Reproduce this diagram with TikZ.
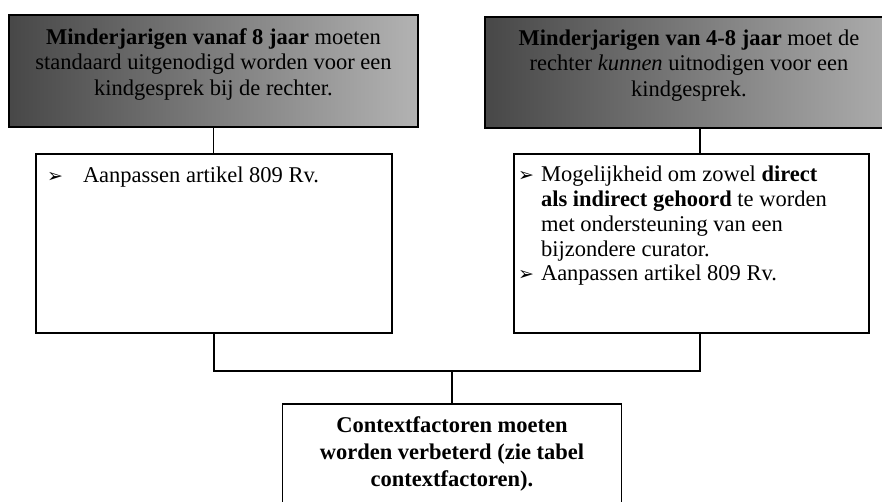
\documentclass[tikz,border=0pt]{standalone}
\usepackage{fontspec}
\setmainfont{Liberation Serif}
\newfontfamily\symfont{DejaVu Sans}
\newcommand\mybul{{\symfont\fontsize{19}{19}\selectfont ➢}}
\begin{document}
\begin{tikzpicture}[x=1pt,y=-1pt,
  box/.style={draw=black, line width=1.5pt, inner sep=0pt, outer sep=0pt, fill=white},
  grad/.style={box, left color=black!72, right color=black!30},
  txt/.style={inner sep=0pt, outer sep=0pt},
  conn/.style={draw=black, line width=1.5pt}]
\useasboundingbox (0,0) rectangle (882,502);
\clip (0,0) rectangle (882,502);
% boxes
\node[grad, minimum width=409pt, minimum height=112pt] (L1) at (213.5,71) {};
\node[grad, minimum width=430pt, minimum height=111pt] (R1) at (700,72.5) {};
\node[box, minimum width=356pt, minimum height=179pt] (L2) at (214,243.5) {};
\node[box, minimum width=355pt, minimum height=179pt] (R2) at (691.5,243.5) {};
\node[box, minimum width=339pt, minimum height=136pt] (B) at (452,472) {};
% texts
\node[txt, anchor=north] (L1t) at (213.5,26.2) {\fontsize{22.5}{25.5}\selectfont
  \begin{tabular}{@{}c@{}}
  \textbf{Minderjarigen vanaf 8 jaar} moeten\\
  standaard uitgenodigd worden voor een\\
  kindgesprek bij de rechter.
  \end{tabular}};
\node[txt, anchor=north] (R1t) at (689,27.2) {\fontsize{22.5}{25.5}\selectfont
  \begin{tabular}{@{}c@{}}
  \textbf{Minderjarigen van 4-8 jaar} moet de\\
  rechter \textit{kunnen} uitnodigen voor een\\
  kindgesprek.
  \end{tabular}};
\node[txt, anchor=north west] (L2t) at (47,165.2) {\fontsize{22.5}{25}\selectfont
  \begin{tabular}{@{}p{36pt}@{}l@{}}
  \mybul & Aanpassen artikel 809 Rv.
  \end{tabular}};
\node[txt, anchor=north west] (R2t) at (518,164.7) {\fontsize{22.5}{24.7}\selectfont
  \begin{tabular}{@{}p{23pt}@{}l@{}}
  \mybul & Mogelijkheid om zowel \textbf{direct}\\
   & \textbf{als indirect gehoord} te worden\\
   & met ondersteuning van een\\
   & bijzondere curator.\\
  \mybul & Aanpassen artikel 809 Rv.
  \end{tabular}};
\node[txt, anchor=north] (Bt) at (452,413.1) {\fontsize{22.5}{27}\selectfont\bfseries
  \begin{tabular}{@{}c@{}}
  Contextfactoren moeten\\
  worden verbeterd (zie tabel\\
  contextfactoren).
  \end{tabular}};
% connectors
\coordinate (J) at (452,371);
\draw[conn] (L1.south) -- (L1.south |- L2.north);
\draw[conn] (R1.south) -- (R1.south |- R2.north);
\draw[conn] (L2.south) |- (J) -| (R1.south |- R2.south);
\draw[conn] (J) -- (B.north);
\end{tikzpicture}
\end{document}
